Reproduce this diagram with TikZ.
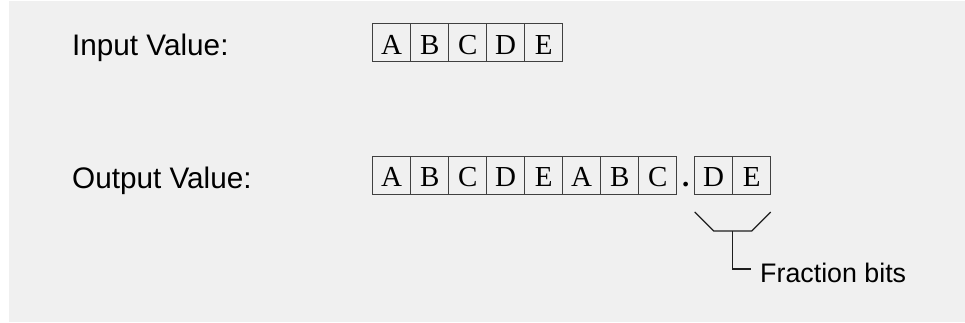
\documentclass[tikz,border=0pt]{standalone}
\usepackage{fontspec}
\setmainfont{Liberation Serif}
\setsansfont{Liberation Sans}
\usetikzlibrary{positioning,calc}
\definecolor{panelgray}{RGB}{240,240,240}
\definecolor{boxline}{RGB}{64,64,64}
\definecolor{bracketline}{RGB}{30,30,30}

\begin{document}
\begin{tikzpicture}[x=1pt,y=-1pt,
    bitbox/.style={draw=boxline,line width=1pt,minimum width=38pt,minimum height=38pt,inner sep=0pt,outer sep=0pt,font=\fontsize{29}{29}\selectfont,text height=26pt,text depth=3pt},
    caption/.style={font=\sffamily\fontsize{29.7}{30}\selectfont,anchor=base west,inner sep=0pt},
    bracket/.style={draw=bracketline,line width=1.3pt}]
    \useasboundingbox (0,0) rectangle (965,322);
    \fill[white] (0,0) rectangle (965,322);
    \fill[panelgray] (9,1) rectangle (965,322);
    \node[caption] (inlabel) at (72,55) {Input Value:};
    \node[caption] (outlabel) at (72,188) {Output Value:};
    % input word
    \node[bitbox] (in1) at (391.7,42.5) {A};
    \foreach \l [count=\i from 2] in {B,C,D,E} {
        \pgfmathtruncatemacro\j{\i-1}
        \node[bitbox,right=0pt of in\j] (in\i) {\l};
    }
    % output word, integer part then fraction
    \node[bitbox] (out1) at (391.7,175) {A};
    \foreach \l [count=\i from 2] in {B,C,D,E,A,B,C} {
        \pgfmathtruncatemacro\j{\i-1}
        \node[bitbox,right=0pt of out\j] (out\i) {\l};
    }
    \node[bitbox,right=18pt of out8] (out9) {D};
    \node[bitbox,right=0pt of out9] (out10) {E};
    \node[bitbox,draw=none,minimum width=0pt,font=\bfseries\fontsize{29}{29}\selectfont] (point) at ($(out8.east)!0.5!(out9.west)$) {.};
    % brace under the fraction bits
    \coordinate (tl) at ($(out9.south west)+(0,18)$);
    \coordinate (tr) at ($(out10.south east)+(0,18)$);
    \draw[bracket] (tl) -- ++(19,19) -- ($(tr)+(-19,19)$) -- (tr);
    \node[caption,font=\sffamily\fontsize{26.8}{27}\selectfont] (fraclabel) at (760,282) {Fraction bits};
    \coordinate (stemend) at (751,269);
    \draw[bracket] ($(out9.south east)+(0,37)$) |- (stemend);
\end{tikzpicture}
\end{document}
